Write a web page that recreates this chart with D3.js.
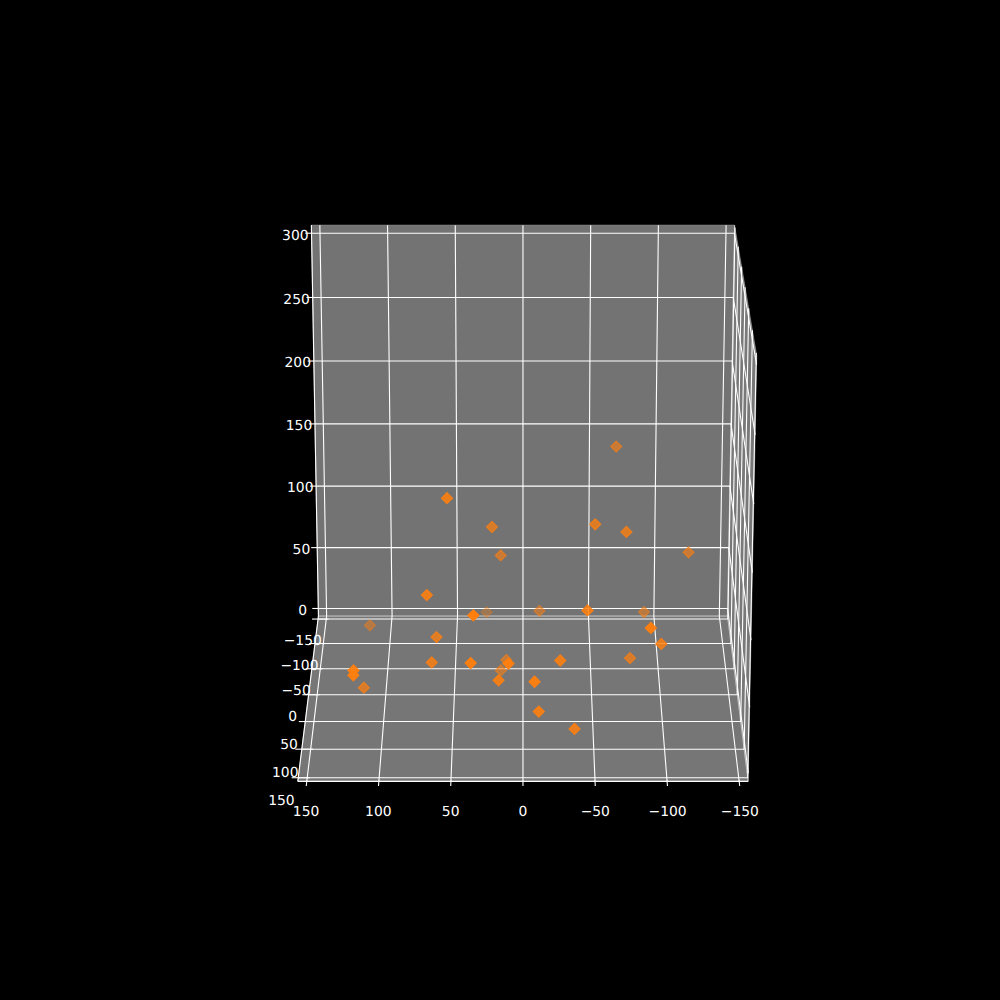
<!DOCTYPE html>
<html>
<head>
<meta charset="utf-8">
<style>
html,body{margin:0;padding:0;background:#000}
svg{display:block}
text{font-family:"DejaVu Sans",sans-serif;font-size:13.89px;fill:#fff;text-anchor:middle;text-rendering:geometricPrecision}
</style>
<script src="https://cdn.jsdelivr.net/npm/d3@7/dist/d3.min.js"></script>
</head>
<body>
<svg id="c" width="1000" height="1000"></svg>
<script>
// values
const xTicks = [150, 100, 50, 0, -50, -100, -150];
const yTicks = [-150, -100, -50, 0, 50, 100, 150];
const zTicks = [0, 50, 100, 150, 200, 250, 300];
const xValues = [-67,53,22,16,-51,-73,-119,67,34,27,-12,-45,-88,-88,-97,112,61,64,36,12,10,16,17,-8,-26,-76,117,117,113,-11,-36];
const yValues = [-22,76,32,5,48,50,4,99,150,-83,-15,103,-15,141,94,-29,76,99,149,14,150,17,120,149,115,64,143,147,71,136,127];
const zValues = [179,175,137,105,145,140,107,111,116,26,54,101,53,103,72,37,70,60,80,27,80,20,55,66,68,49,72,70,29,38,21];

// view of the 3D axes
const elev = 20 * Math.PI / 180, dist = 10;
const cosE = Math.cos(elev), sinE = Math.sin(elev);
const toWorld = d3.scaleLinear().domain([-150, 150]).range([-0.5, 0.5]);
const zWorld = d3.scaleLinear().domain([0, 300]).range([-0.5, 0.5]);
const sx = d3.scaleLinear().domain([-0.095, 0.09]).range([125, 900]);
const sy = d3.scaleLinear().domain([-0.095, 0.09]).range([890, 120]);
const lo = -156.25, hi = 156.25, zLo = -6.25, zHi = 306.25;

function depth(x, y, z) { return toWorld(y) * cosE + zWorld(z) * sinE; }
function project(x, y, z) {
  const u = -toWorld(x), v = toWorld(y), w = zWorld(z);
  const d = dist - (v * cosE + w * sinE);
  return [sx(u / d), sy((w * cosE - v * sinE) / d)];
}
const path3 = pts => d3.line()(pts.map(p => project(...p)));

const svg = d3.select("#c");
svg.append("rect").attr("width", 1000).attr("height", 1000).attr("fill", "#000");

// panes
const panes = [
  {c:"rgb(242,242,242)", p:[[lo,lo,zLo],[lo,hi,zLo],[lo,hi,zHi],[lo,lo,zHi]]},
  {c:"rgb(230,230,230)", p:[[lo,lo,zLo],[hi,lo,zLo],[hi,lo,zHi],[lo,lo,zHi]]},
  {c:"rgb(236,236,236)", p:[[lo,lo,zLo],[hi,lo,zLo],[hi,hi,zLo],[lo,hi,zLo]]}
];
svg.append("g").selectAll("path").data(panes).join("path")
  .attr("d", d => path3(d.p) + "Z")
  .attr("fill", d => d.c).attr("fill-opacity", 0.5)
  .attr("stroke", "#fff").attr("stroke-opacity", 0.35).attr("stroke-width", 1);

// grid
const gridLines = [
  ...xTicks.map(t => [[t,hi,zLo],[t,lo,zLo],[t,lo,zHi]]),
  ...yTicks.map(t => [[hi,t,zLo],[lo,t,zLo],[lo,t,zHi]]),
  ...zTicks.map(t => [[hi,lo,t],[lo,lo,t],[lo,hi,t]])
];
svg.append("g").selectAll("path").data(gridLines).join("path")
  .attr("d", path3).attr("fill", "none").attr("stroke", "#fff").attr("stroke-width", 1.11);

// axis lines
const axisLines = [
  [[hi,hi,zLo],[lo,hi,zLo]],
  [[hi,lo,zLo],[hi,hi,zLo]],
  [[hi,lo,zLo],[hi,lo,zHi]]
];
svg.append("g").selectAll("path").data(axisLines).join("path")
  .attr("d", path3).attr("fill", "none").attr("stroke", "#fff").attr("stroke-width", 1.11);

// tick marks
const tickMarks = [
  ...xTicks.map(t => [[t,hi-2,zLo],[t,hi+8,zLo]]),
  ...yTicks.map(t => [[hi-8,t,zLo],[hi+4.6,t,zLo]]),
  ...zTicks.map(t => [[hi,lo,t],[hi+4.6,lo,t]])
];
svg.append("g").selectAll("path").data(tickMarks).join("path")
  .attr("d", path3).attr("fill", "none").attr("stroke", "#fff").attr("stroke-width", 1.11);

// tick labels
const fmt = t => String(t).replace("-", "\u2212");
const labels = [
  ...xTicks.map(t => ({t, p:[t, hi+16, zLo-15.5]})),
  ...yTicks.map(t => ({t, p:[hi+12, t, zLo-17.3]})),
  ...zTicks.map(t => ({t, p:[hi+12, lo, t-1.1]}))
];
svg.append("g").selectAll("text").data(labels).join("text")
  .attr("x", d => project(...d.p)[0])
  .attr("y", d => project(...d.p)[1])
  .attr("dy", "0.36em")
  .text(d => fmt(d.t));

// points, far to near, with depth shading
const points = d3.range(xValues.length).map(i => ({x:xValues[i], y:yValues[i], z:zValues[i], D:depth(xValues[i], yValues[i], zValues[i])}));
const alpha = d3.scaleLinear().domain(d3.extent(points, d => d.D)).range([0.3, 1]);
points.sort((a, b) => d3.ascending(a.D, b.D));
const diamond = "M0,-5.4L5.4,0L0,5.4L-5.4,0Z";
svg.append("g").selectAll("path").data(points).join("path")
  .attr("d", diamond)
  .attr("transform", d => { const p = project(d.x, d.y, d.z); return `translate(${p[0]},${p[1]})`; })
  .attr("fill", "#ff7f0e").attr("fill-opacity", d => alpha(d.D))
  .attr("stroke", "#ff7f0e").attr("stroke-opacity", d => alpha(d.D)).attr("stroke-width", 1.39);
</script>
</body>
</html>
